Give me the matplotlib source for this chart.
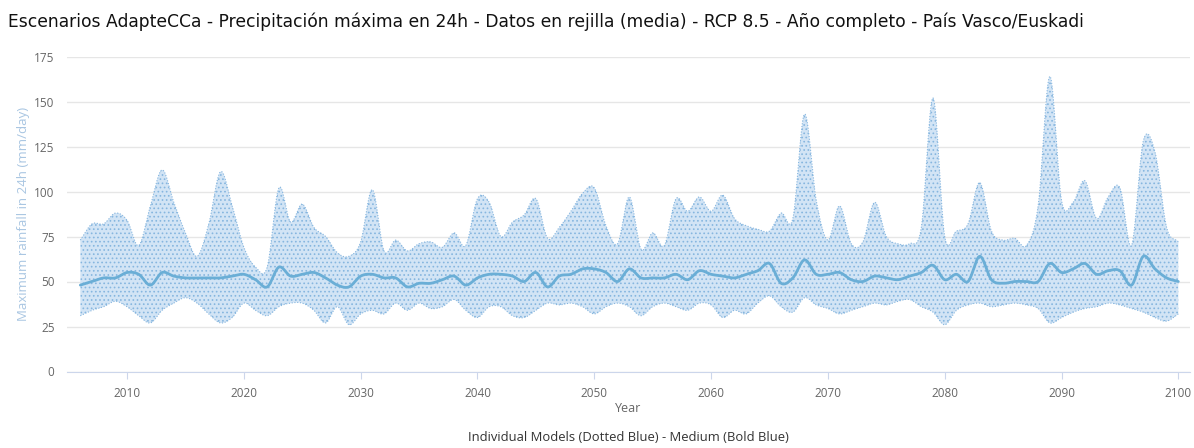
import numpy as np
import matplotlib
matplotlib.use("Agg")
import matplotlib.pyplot as plt

# Annual maximum 24h rainfall (mm/day), RCP 8.5, grid mean
years = list(range(2006, 2101))

upper = [73, 82, 82, 88, 84, 70, 92, 112, 94, 77,
         64, 82, 111, 92, 69, 58, 58, 102, 83, 93,
         80, 75, 66, 64, 72, 101, 67, 73, 67, 71,
         72, 69, 77, 70, 96, 94, 75, 83, 87, 96,
         74, 80, 89, 99, 102, 81, 71, 97, 68, 77,
         70, 96, 89, 97, 89, 98, 85, 81, 79, 78,
         88, 85, 143, 95, 73, 92, 71, 72, 94, 75,
         71, 71, 80, 152, 75, 78, 82, 105, 78, 73,
         74, 70, 92, 164, 95, 94, 106, 85, 97, 102,
         70, 128, 122, 80, 72]

lower = [31, 34, 36, 39, 36, 31, 27, 34, 38, 41,
         38, 32, 27, 30, 38, 34, 31, 36, 38, 38,
         34, 27, 36, 26, 32, 34, 32, 38, 34, 38,
         35, 36, 40, 34, 30, 36, 36, 31, 30, 34,
         38, 37, 38, 36, 32, 36, 38, 36, 31, 36,
         38, 36, 34, 38, 37, 30, 34, 32, 38, 42,
         36, 33, 41, 37, 35, 32, 34, 36, 38, 37,
         39, 40, 36, 33, 26, 34, 37, 38, 36, 37,
         38, 37, 35, 27, 30, 33, 35, 36, 38, 37,
         35, 33, 30, 28, 32]

median = [48, 50, 52, 52, 55, 54, 48, 55, 53, 52,
          52, 52, 52, 53, 54, 51, 47, 58, 53, 54,
          55, 52, 48, 47, 53, 54, 52, 52, 47, 49,
          49, 51, 53, 48, 52, 54, 54, 53, 50, 55,
          47, 53, 54, 57, 57, 55, 50, 57, 52, 52,
          52, 54, 51, 56, 54, 53, 52, 54, 56, 60,
          49, 52, 62, 54, 54, 55, 51, 50, 53, 52,
          51, 53, 55, 59, 51, 54, 50, 64, 51, 49,
          50, 50, 50, 60, 55, 57, 60, 54, 56, 56,
          48, 64, 57, 52, 50]

title = ("Escenarios AdapteCCa - Precipitación máxima en 24h - Datos en rejilla (media)"
         " - RCP 8.5 - Año completo - País Vasco/Euskadi")


def spline(x, y, n=16):
    # cubic Hermite curve through the points, central-difference tangents
    x = np.asarray(x, float)
    y = np.asarray(y, float)
    m = np.gradient(y, x)
    xs, ys = [], []
    for i in range(len(x) - 1):
        h = x[i + 1] - x[i]
        t = np.linspace(0, 1, n, endpoint=False)
        h00 = 2 * t**3 - 3 * t**2 + 1
        h10 = t**3 - 2 * t**2 + t
        h01 = -2 * t**3 + 3 * t**2
        h11 = t**3 - t**2
        xs.append(x[i] + t * h)
        ys.append(h00 * y[i] + h10 * h * m[i] + h01 * y[i + 1] + h11 * h * m[i + 1])
    xs.append([x[-1]])
    ys.append([y[-1]])
    return np.concatenate(xs), np.concatenate(ys)


fill_col = "#d2e4f5"
dot_col = "#86b6df"
line_col = "#6aaed6"

plt.rcParams["hatch.linewidth"] = 0.7

fig = plt.figure(figsize=(11.94, 4.48), dpi=100)
ax = fig.add_axes([67 / 1194, 1 - 371.5 / 448, (1190 - 67) / 1194, (371.5 - 56.5) / 448])

xu, yu = spline(years, upper)
xl, yl = spline(years, lower)
xm, ym = spline(years, median)

ax.fill_between(xu, yl, yu, facecolor=fill_col, edgecolor=dot_col,
                hatch="....", linewidth=0, zorder=2)
ax.plot(xu, yu, color=dot_col, lw=0.8, ls=(0, (1, 1.5)), zorder=3)
ax.plot(xl, yl, color=dot_col, lw=0.8, ls=(0, (1, 1.5)), zorder=3)
ax.plot(xm, ym, color=line_col, lw=2.0, zorder=4, solid_capstyle="round")

ax.set_xlim(2004.86, 2101.0)
ax.set_ylim(0, 175)
ax.set_yticks(range(0, 176, 25))
ax.set_xticks(range(2010, 2101, 10))
ax.grid(axis="y", color="#e6e6e6", lw=1)
ax.set_axisbelow(True)
for side in ["top", "right", "left"]:
    ax.spines[side].set_visible(False)
ax.spines["bottom"].set_color("#ccd6eb")
ax.tick_params(axis="y", length=0, pad=9, labelsize=8.5, labelcolor="#666666")
ax.tick_params(axis="x", length=5, color="#ccd6eb", pad=6, labelsize=8.5,
               labelcolor="#666666")
for lab in ax.get_xticklabels() + ax.get_yticklabels():
    lab.set_fontfamily("Open Sans")

ax.set_ylabel("Maximum rainfall in 24h (mm/day)", color="#a9c6e2", fontsize=9.5,
              family="Open Sans", labelpad=3)

fig.text(8 / 1194, 1 - 22 / 448, title, ha="left", va="center", fontsize=12.3,
         family="DejaVu Sans", color="#111111")
fig.text(628 / 1194, 1 - 408 / 448, "Year", ha="center", va="center",
         fontsize=9, family="Open Sans", color="#666666")
fig.text(628 / 1194, 1 - 437 / 448,
         "Individual Models (Dotted Blue) - Medium (Bold Blue)",
         ha="center", va="center", fontsize=9.4, family="Open Sans", color="#333333")

fig.savefig("out.png", dpi=100)
